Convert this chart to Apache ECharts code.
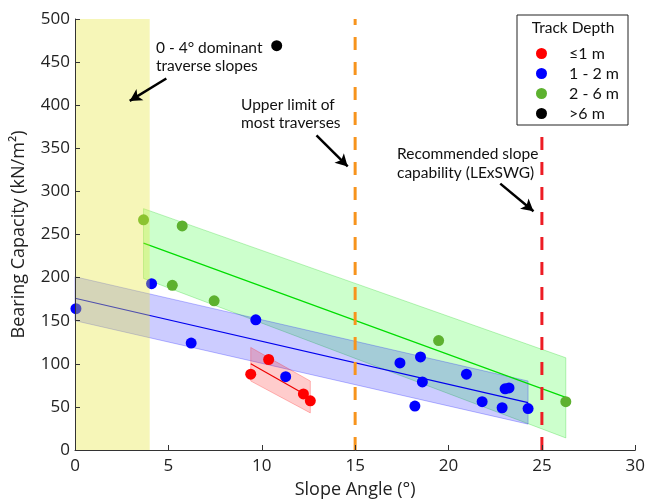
<!DOCTYPE html>
<html><head><meta charset="utf-8">
<script src="https://cdn.jsdelivr.net/npm/echarts@6/dist/echarts.min.js"></script>
<style>html,body{margin:0;padding:0;background:#fff}#c{width:648px;height:504px}</style>
</head><body><div id="c"></div>
<script>
// ---- data ----
const xTicks = [0, 5, 10, 15, 20, 25, 30];
const yTicks = [0, 50, 100, 150, 200, 250, 300, 350, 400, 450, 500];
const depthNames = ['≤1 m', '1 - 2 m', '2 - 6 m', '>6 m'];
const redPts = [[9.41, 88], [10.37, 105], [12.23, 65], [12.6, 57]];
const bluePts = [[0.05, 164], [4.1, 193], [6.22, 124], [9.68, 151], [11.28, 85], [17.4, 101], [18.5, 108], [18.6, 79], [18.2, 51], [20.96, 88], [21.8, 56], [22.87, 49], [23.03, 71], [23.24, 72], [24.26, 48]];
const greenPts = [[3.67, 267], [5.74, 260], [5.21, 191], [7.45, 173], [19.47, 127], [26.28, 56]];
const blackPts = [[10.8, 469]];
// bands: [x, upper, lower]
const redBand = [[9.41, 119, 80], [12.6, 80, 43]];
const blueBand = [[0, 201, 150], [24.26, 80, 30]];
const greenBand = [[3.67, 280, 199], [26.28, 107, 14]];
const redFit = [[9.41, 100], [12.6, 61]];
const blueFit = [[0, 176], [24.26, 55]];
const greenFit = [[3.67, 240], [26.28, 61]];
const dominantRange = [[0, 4]];
const upperLimit = 15;
const recommended = 25;
const arrows = [
  [[4.89, 431], [2.93, 405]],
  [[12.93, 365], [14.6, 329]],
  [[22.77, 309], [24.55, 277]]
];
const notes = ['0 - 4° dominant\ntraverse slopes', 'Upper limit of\nmost traverses', 'Recommended slope\ncapability (LExSWG)'];

const FONT = 'Open Sans';
const NFONT = 'Lato';
const chart = echarts.init(document.getElementById('c'));

function bandSeries(band, fill, stroke) {
  return {
    type: 'custom', z: 1, silent: true,
    data: band,
    renderItem: function (params, api) {
      if (params.dataIndex !== 0) return;
      const pts = [];
      band.forEach(r => pts.push(api.coord([r[0], r[1]])));
      band.slice().reverse().forEach(r => pts.push(api.coord([r[0], r[2]])));
      return { type: 'polygon', shape: { points: pts }, style: { fill: fill, stroke: stroke, lineWidth: 1 } };
    }
  };
}
function fitSeries(d, color) {
  return { type: 'line', data: d, symbol: 'none', z: 1.5, silent: true, lineStyle: { color: color, width: 1.2 } };
}
function vline(x, color) {
  return { type: 'line', data: [[x, 0], [x, yTicks[yTicks.length - 1]]], symbol: 'none', z: 3, silent: true,
    lineStyle: { color: color, width: 3, type: [13, 12] } };
}
function scatter(name, d, color) {
  return { type: 'scatter', name: name, data: d, symbolSize: 11, z: 2,
    itemStyle: { color: color, opacity: 1 } };
}

const option = {
  animation: false,
  textStyle: { fontFamily: FONT },
  grid: { left: 75, right: 10, top: 19, bottom: 54 },
  xAxis: {
    type: 'value', min: xTicks[0], max: xTicks[xTicks.length - 1], interval: 5, z: 10,
    name: 'Slope Angle (°)', nameLocation: 'middle', nameGap: 31,
    nameTextStyle: { fontSize: 18, color: '#222', fontFamily: FONT },
    axisLine: { lineStyle: { color: '#333', width: 1 } },
    axisTick: { inside: true, length: 5, lineStyle: { color: '#333' } },
    axisLabel: { fontSize: 17, color: '#222', margin: 8, fontFamily: FONT },
    splitLine: { show: false }
  },
  yAxis: {
    type: 'value', min: yTicks[0], max: yTicks[yTicks.length - 1], interval: 50, z: 10,
    name: 'Bearing Capacity (kN/m²)', nameLocation: 'middle', nameGap: 47,
    nameTextStyle: { fontSize: 18, color: '#222', fontFamily: FONT },
    axisLine: { show: true, lineStyle: { color: '#333', width: 1 } },
    axisTick: { show: true, inside: true, length: 5, lineStyle: { color: '#333' } },
    axisLabel: { fontSize: 17, color: '#222', margin: 5, fontFamily: FONT },
    splitLine: { show: false }
  },
  legend: {
    orient: 'vertical', left: 536, top: 45.5, padding: 0, z: 20,
    itemWidth: 11, itemHeight: 11, itemGap: 4, icon: 'circle',
    data: depthNames,
    textStyle: { fontSize: 16, lineHeight: 14, color: '#111', fontFamily: NFONT, padding: [0, 0, 0, 17] }
  },
  graphic: [
    { type: 'rect', z: 15, shape: { x: 517, y: 15, width: 111, height: 110 }, style: { fill: '#fff', stroke: '#222', lineWidth: 1 } },
    { type: 'text', z: 16, x: 573, y: 28, style: { text: 'Track Depth', fontSize: 15.5, fontFamily: NFONT, fill: '#111', textAlign: 'center', textVerticalAlign: 'middle' } },
    { type: 'text', z: 16, x: 156, y: 39, style: { text: notes[0], fontSize: 15.5, lineHeight: 18, fontFamily: NFONT, fill: '#111' } },
    { type: 'text', z: 16, x: 241, y: 96, style: { text: notes[1], fontSize: 15.5, lineHeight: 18, fontFamily: NFONT, fill: '#111' } },
    { type: 'text', z: 16, x: 397, y: 144, style: { text: notes[2], fontSize: 15.5, lineHeight: 19, fontFamily: NFONT, fill: '#111' } }
  ],
  series: [
    bandSeries(greenBand, 'rgba(0,255,0,0.2)', 'rgba(0,200,0,0.25)'),
    bandSeries(blueBand, 'rgba(0,0,255,0.2)', 'rgba(0,0,255,0.25)'),
    bandSeries(redBand, 'rgba(255,0,0,0.2)', 'rgba(255,0,0,0.25)'),
    fitSeries(greenFit, '#00dd00'),
    fitSeries(blueFit, '#0000ee'),
    fitSeries(redFit, '#ee0000'),
    scatter(depthNames[0], redPts, '#ff0000'),
    scatter(depthNames[1], bluePts, '#0000ff'),
    scatter(depthNames[2], greenPts, '#5db12f'),
    Object.assign(scatter(depthNames[3], blackPts, '#000000'), {
      markLine: {
        silent: true, symbol: ['none', 'arrow'], symbolSize: [10, 12],
        label: { show: false },
        lineStyle: { color: '#000', width: 2.5, type: 'solid' },
        data: arrows.map(a => [{ coord: a[0] }, { coord: a[1] }])
      }
    }),
    {
      type: 'custom', z: 4, silent: true, data: dominantRange,
      renderItem: function (params, api) {
        const p0 = api.coord([api.value(0), yTicks[yTicks.length - 1]]);
        const p1 = api.coord([api.value(1), yTicks[0]]);
        return { type: 'rect', shape: { x: p0[0], y: p0[1], width: p1[0] - p0[0], height: p1[1] - p0[1] },
          style: { fill: 'rgba(230,230,51,0.35)' } };
      }
    },
    vline(upperLimit, '#f7941d'),
    vline(recommended, '#ed1c24')
  ]
};
chart.setOption(option);
</script>
</body></html>
